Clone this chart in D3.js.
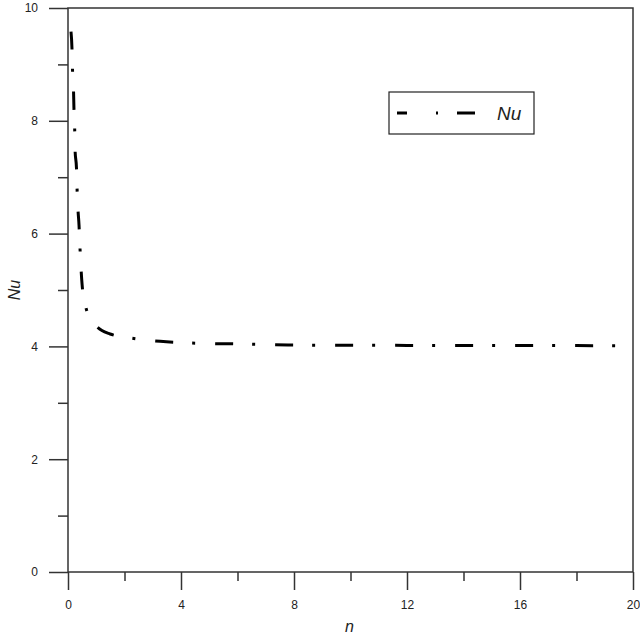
<!DOCTYPE html>
<html>
<head>
<meta charset="utf-8">
<script src="https://cdn.jsdelivr.net/npm/d3@7"></script>
<style>
  html, body { margin: 0; padding: 0; background: #fff; }
  svg { display: block; }
  text { font-family: "Liberation Sans", Arial, sans-serif; fill: #222; }
</style>
</head>
<body>
<div id="chart"></div>
<script>
// ---- data ----
const nValues  = [0.106, 0.14, 0.16, 0.195, 0.21, 0.237, 0.25, 0.30, 0.32, 0.354, 0.39, 0.425, 0.46, 0.50, 0.62, 0.75, 0.96, 1.2, 1.49, 2.19, 3.26, 4.32, 6.44, 7.79, 10, 12, 14, 16, 18, 20];
const nuValues = [9.58, 9.29, 8.90, 8.55, 8.23, 7.85, 7.48, 7.16, 6.81, 6.42, 6.15, 5.74, 5.39, 5.09, 4.72, 4.52, 4.38, 4.28, 4.22, 4.15, 4.09, 4.06, 4.04, 4.025, 4.02, 4.018, 4.016, 4.015, 4.014, 4.013];
const xMajorTicks = [0, 4, 8, 12, 16, 20];
const xMinorTicks = [2, 6, 10, 14, 18];
const yMajorTicks = [0, 2, 4, 6, 8, 10];
const yMinorTicks = [1, 3, 5, 7, 9];
const seriesName = "Nu";
const xTitle = "n";
const yTitle = "Nu";

(function () {
const W = 640, H = 636;
const pL = 68, pR = 633, pT = 8, pB = 572;

const svg = d3.select("#chart").append("svg").attr("width", W).attr("height", H);

const x = d3.scaleLinear().domain([0, 20]).range([pL, pR]);
const y = d3.scaleLinear().domain([0, 10]).range([pB, pT]);

const axisColor = "#333";

// frame
svg.append("rect").attr("x", pL).attr("y", pT)
  .attr("width", pR - pL).attr("height", pB - pT)
  .attr("fill", "none").attr("stroke", axisColor).attr("stroke-width", 1.5);

// y axis ticks (outward)
const yAxis = d3.axisLeft(y).tickValues(yMajorTicks).tickSize(19).tickPadding(11).tickFormat(d3.format("d"));
const gy = svg.append("g").attr("transform", `translate(${pL},0)`).call(yAxis);
gy.select(".domain").remove();
gy.selectAll("line").attr("stroke", axisColor).attr("stroke-width", 1.5);
gy.selectAll("text").style("font-size", "12px").attr("fill", "#222");
const yMinor = d3.axisLeft(y).tickValues(yMinorTicks).tickSize(10).tickFormat("");
const gym = svg.append("g").attr("transform", `translate(${pL},0)`).call(yMinor);
gym.select(".domain").remove();
gym.selectAll("line").attr("stroke", axisColor).attr("stroke-width", 1.5);

// x axis ticks (outward)
const xAxis = d3.axisBottom(x).tickValues(xMajorTicks).tickSize(18).tickPadding(10).tickFormat(d3.format("d"));
const gx = svg.append("g").attr("transform", `translate(0,${pB})`).call(xAxis);
gx.select(".domain").remove();
gx.selectAll("line").attr("stroke", axisColor).attr("stroke-width", 1.5);
gx.selectAll("text").style("font-size", "12px").attr("fill", "#222");
const xMinor = d3.axisBottom(x).tickValues(xMinorTicks).tickSize(9).tickFormat("");
const gxm = svg.append("g").attr("transform", `translate(0,${pB})`).call(xMinor);
gxm.select(".domain").remove();
gxm.selectAll("line").attr("stroke", axisColor).attr("stroke-width", 1.5);

// axis titles
svg.append("text").attr("x", (pL + pR) / 2 - 1).attr("y", 632)
  .attr("text-anchor", "middle").style("font-size", "16px").style("font-style", "italic")
  .text(xTitle);
svg.append("text").attr("transform", `translate(20,290) rotate(-90)`)
  .attr("text-anchor", "middle").style("font-size", "16px").style("font-style", "italic")
  .text(yTitle);

// curve
const data = nValues.map((n, i) => ({ n, nu: nuValues[i] }));
const line = d3.line().x(d => x(d.n)).y(d => y(d.nu)).curve(d3.curveMonotoneX);
svg.append("path").datum(data).attr("d", line)
  .attr("fill", "none").attr("stroke", "#000").attr("stroke-width", 3)
  .attr("stroke-dasharray", "18 19 3 20");

// legend
const lg = svg.append("g");
lg.append("rect").attr("x", 389).attr("y", 92).attr("width", 145).attr("height", 42)
  .attr("fill", "#fff").attr("stroke", "#222").attr("stroke-width", 1.2);
lg.append("line").attr("x1", 397).attr("x2", 475).attr("y1", 113).attr("y2", 113)
  .attr("stroke", "#000").attr("stroke-width", 3)
  .attr("stroke-dasharray", "10 29 2 19 18 100");
lg.append("text").attr("x", 497).attr("y", 120)
  .style("font-size", "19px").style("font-style", "italic").text(seriesName);
})();
</script>
</body>
</html>
